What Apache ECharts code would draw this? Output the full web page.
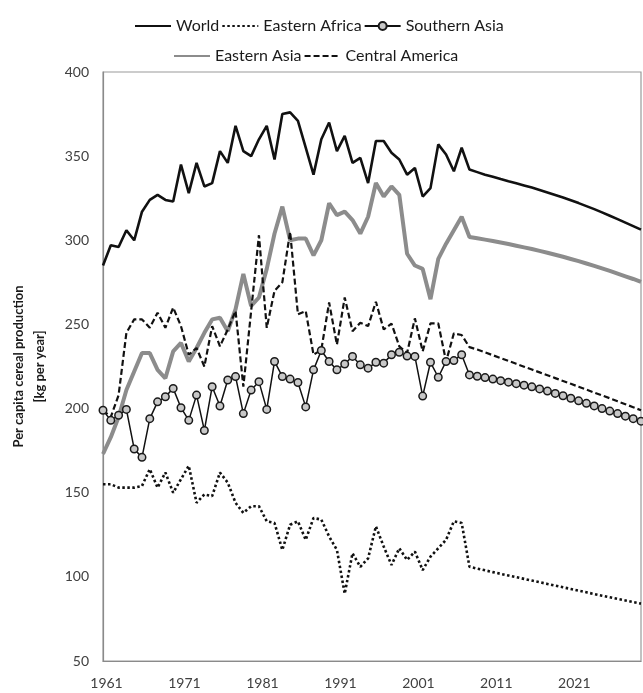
<!DOCTYPE html>
<html>
<head>
<meta charset="utf-8">
<script src="https://cdn.jsdelivr.net/npm/echarts@6/dist/echarts.min.js"></script>
<style>
html,body{margin:0;padding:0;background:#fff;}
#chart{width:643px;height:693px;}
</style>
</head>
<body>
<div id="chart"></div>
<script>
var years = [];
for (var y = 1961; y <= 2030; y++) years.push(String(y));

var yTicks = [50, 100, 150, 200, 250, 300, 350, 400];

var world = [285,297,296,306,300,317,324,327,324,323,
  345,328,346,332,334,353,346,368,353,350,
  360,368,348,375,376,371,355,339,360,370,
  353,362,346,349,334,359,359,352,348,339,
  343,326,331,357,351,341,355,342,340.5,339,
  337.8,336.4,335.1,333.9,332.6,331.3,329.9,328.4,326.9,325.4,
  323.8,322.1,320.3,318.5,316.6,314.6,312.6,310.5,308.4,306.3];

var easternAfrica = [155,155,153,153,153,154,164,153,162,150,
  158,166,144,149,148,162,156,144,138,142,
  142,133,132,116,131,133,122,135,134,124,
  116,90,114,106,111,130,118,107,117,110,
  115,104,112,117,122,133,132,106,104.9,103.9,
  102.8,101.8,100.8,99.8,98.8,97.8,96.8,95.8,94.8,93.8,
  92.8,91.8,90.8,89.8,88.8,87.9,86.9,86,85,84.1];

var southernAsia = [199,193,196,199.5,176,171,194,204,207,212,
  200.5,193,208,187,213,201.5,217,219,197,211,
  216,199.5,228,219,217.5,215.5,201,223,234.5,228,
  223,226.5,231,226,224,227.5,227,232,233.5,231.2,
  231,207.4,227.5,218.6,228,228.5,232,220,219.2,218.4,
  217.5,216.6,215.7,214.8,213.9,212.9,211.7,210.4,209,207.6,
  206.1,204.6,203.1,201.6,200,198.5,197,195.5,194,192.5];

var easternAsia = [173,183,195,211,222,233,233,223,218,234,
  239,228,236,245,253,254,246,259,280,261,
  266,283,304,320,300,301,301,291,300,322,
  315,317,312,304,314,334,326,332,327,292,
  285,283,265,289,298,306,314,302,301.2,300.4,
  299.6,298.7,297.8,296.8,295.8,294.8,293.7,292.6,291.4,290.2,
  288.9,287.6,286.2,284.8,283.3,281.8,280.2,278.6,277,275.3];

var centralAmerica = [199,195,208,245,253,253,248,257,248,260,
  249,232,236,225,249,237,247,258,213,258,
  303,248,270,275,305,256,258,232,235,263,
  238,266,246,251,249,263.5,247,250.5,237,233,
  253.6,234,250.6,250.6,228,244.7,243.7,236.5,235.1,233.4,
  231.7,230,228.3,226.6,224.9,223.2,221.5,219.8,218.1,216.4,
  214.7,213,211.3,209.5,207.8,206.1,204.3,202.6,200.8,199];

var FONT = 'Lato';
var hideSym = {opacity: 0, color: 'transparent', borderWidth: 0};
var legendText = {fontFamily: FONT, fontSize: 16, color: '#1a1a1a'};

var chart = echarts.init(document.getElementById('chart'), null, {renderer: 'canvas'});

chart.setOption({
  animation: false,
  backgroundColor: '#ffffff',
  textStyle: {fontFamily: FONT},
  legend: [
    {
      left: 129, top: 13,
      itemWidth: 36, itemHeight: 10, itemGap: 2,
      textStyle: legendText,
      data: [
        {name: 'World', itemStyle: hideSym},
        {name: 'Eastern Africa', itemStyle: hideSym},
        {name: 'Southern Asia'}
      ]
    },
    {
      left: 168, top: 43,
      itemWidth: 36, itemHeight: 10, itemGap: 2,
      textStyle: legendText,
      data: [
        {name: 'Eastern Asia', itemStyle: hideSym},
        {name: 'Central America', itemStyle: hideSym}
      ]
    }
  ],
  grid: {
    left: 93, right: 2, top: 72, bottom: 32,
    show: true, borderColor: '#9a9a9a', borderWidth: 1.2,
    containLabel: false
  },
  xAxis: {
    type: 'category',
    data: years,
    boundaryGap: false,
    axisLine: {show: true, lineStyle: {color: '#8a8a8a', width: 1.2}},
    axisTick: {show: false},
    splitLine: {show: false},
    axisLabel: {
      interval: 9,
      margin: 15,
      fontFamily: FONT, fontSize: 14, color: '#404040',
      padding: [0, 0, 0, 7]
    }
  },
  yAxis: {
    type: 'value',
    min: yTicks[0], max: yTicks[yTicks.length - 1], interval: 50,
    axisLine: {show: true, lineStyle: {color: '#8a8a8a', width: 1.2}},
    axisTick: {show: false},
    splitLine: {show: false},
    axisLabel: {margin: 14, fontFamily: FONT, fontSize: 14, color: '#404040'},
    name: 'Per capita cereal production\n[kg per year]',
    nameLocation: 'middle',
    nameGap: 53,
    nameRotate: 90,
    nameTextStyle: {fontFamily: FONT, fontSize: 13, fontWeight: 'bold', color: '#1a1a1a', lineHeight: 21}
  },
  series: [
    {
      name: 'World', type: 'line', data: world,
      symbol: 'none', z: 3,
      lineStyle: {color: '#111111', width: 2.6, type: 'solid'},
      itemStyle: {color: '#111111'}
    },
    {
      name: 'Eastern Africa', type: 'line', data: easternAfrica,
      symbol: 'none', z: 3,
      lineStyle: {color: '#111111', width: 2.6, type: [2.5, 2.5]},
      itemStyle: {color: '#111111'}
    },
    {
      name: 'Southern Asia', type: 'line', data: southernAsia,
      symbol: 'circle', symbolSize: 7.5, showSymbol: true, showAllSymbol: true, z: 4,
      lineStyle: {color: '#111111', width: 1.5, type: 'solid'},
      itemStyle: {color: '#c8c8c8', borderColor: '#1a1a1a', borderWidth: 1.5}
    },
    {
      name: 'Eastern Asia', type: 'line', data: easternAsia,
      symbol: 'none', z: 2,
      lineStyle: {color: '#8c8c8c', width: 4, type: 'solid'},
      itemStyle: {color: '#8c8c8c'}
    },
    {
      name: 'Central America', type: 'line', data: centralAmerica,
      symbol: 'none', z: 3,
      lineStyle: {color: '#111111', width: 2.2, type: [6, 3]},
      itemStyle: {color: '#111111'}
    }
  ]
});
</script>
</body>
</html>
